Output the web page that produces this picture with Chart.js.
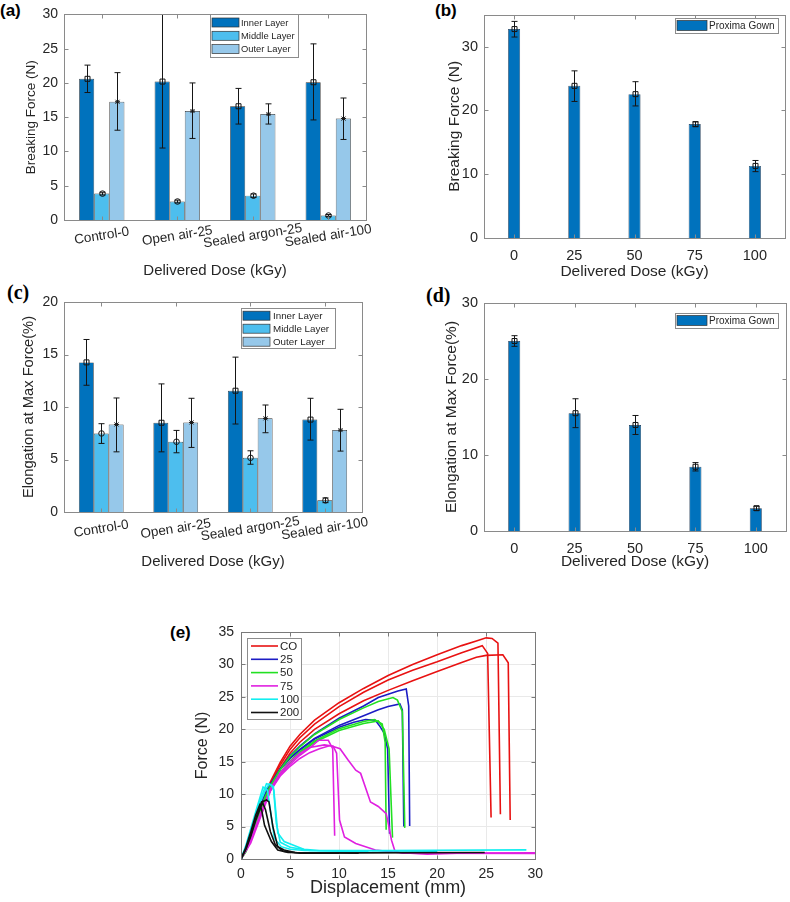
<!DOCTYPE html>
<html>
<head>
<meta charset="utf-8">
<script src="https://cdn.jsdelivr.net/npm/chart.js@4.4.0/dist/chart.umd.min.js"></script>
<style>
  body { margin: 0; background: #fff; width: 790px; height: 902px; position: relative; overflow: hidden; }
  .panel { position: absolute; }
  .tag { position: absolute; font-weight: bold; color: #000; line-height: 1; }
  .sans { font-family: "Liberation Sans", Arial, sans-serif; font-size: 17px; }
  .serif { font-family: "Liberation Serif", "Times New Roman", serif; font-size: 20px; }
</style>
</head>
<body>
<div class="tag sans" style="left:0px;top:2px">(a)</div>
<div class="tag sans" style="left:435px;top:2px">(b)</div>
<div class="tag serif" style="left:7px;top:282px">(c)</div>
<div class="tag serif" style="left:426px;top:285px">(d)</div>
<div class="tag sans" style="left:170px;top:624px">(e)</div>

<div class="panel" style="left:0px;top:0px"><canvas id="chartA" width="395" height="282"></canvas></div>
<div class="panel" style="left:395px;top:0px"><canvas id="chartB" width="395" height="282"></canvas></div>
<div class="panel" style="left:0px;top:282px"><canvas id="chartC" width="395" height="290"></canvas></div>
<div class="panel" style="left:395px;top:282px"><canvas id="chartD" width="395" height="290"></canvas></div>
<div class="panel" style="left:150px;top:600px"><canvas id="chartE" width="400" height="302"></canvas></div>

<script>
// --- data ---
const groups = ["Control-0", "Open air-25", "Sealed argon-25", "Sealed air-100"];
const layerNames = ["Inner Layer", "Middle Layer", "Outer Layer"];
const doses = ["0", "25", "50", "75", "100"];

// (a) breaking force per layer (N), with error bar ends
const forceInner = [20.6, 20.2, 16.6, 20.1];
const forceInnerLo = [18.6, 10.5, 14.0, 14.6];
const forceInnerHi = [22.6, 30.4, 19.2, 25.7];
const forceMiddle = [3.85, 2.7, 3.55, 0.65];
const forceMiddleLo = [3.65, 2.5, 3.3, 0.5];
const forceMiddleHi = [4.05, 2.9, 3.8, 0.8];
const forceOuter = [17.25, 15.9, 15.45, 14.8];
const forceOuterLo = [13.1, 11.9, 14.0, 11.75];
const forceOuterHi = [21.5, 20.0, 16.95, 17.8];

// (b) Proxima gown breaking force (N)
const gownForce = [32.75, 23.85, 22.55, 17.85, 11.3];
const gownForceLo = [31.5, 21.4, 20.7, 17.45, 10.4];
const gownForceHi = [33.95, 26.2, 24.5, 18.2, 12.15];

// (c) elongation at max force per layer (%)
const elongInner = [14.25, 8.5, 11.55, 8.8];
const elongInnerLo = [12.07, 5.73, 8.38, 6.85];
const elongInnerHi = [16.43, 12.2, 14.75, 10.83];
const elongMiddle = [7.48, 6.69, 5.16, 1.11];
const elongMiddleLo = [6.53, 5.64, 4.55, 0.89];
const elongMiddleHi = [8.41, 7.77, 5.83, 1.34];
const elongOuter = [8.34, 8.53, 8.92, 7.8];
const elongOuterLo = [5.73, 6.15, 7.55, 5.8];
const elongOuterHi = [10.86, 10.83, 10.19, 9.78];

// (d) Proxima gown elongation (%)
const gownElong = [25.0, 15.5, 13.95, 8.45, 3.0];
const gownElongLo = [24.3, 13.6, 12.7, 7.9, 2.7];
const gownElongHi = [25.7, 17.4, 15.2, 9.0, 3.25];

// (e) force-displacement curves, [mm, N]
const coRun1 = [[0,0],[0.5,1.6],[1,3.9],[1.5,6.2],[2,8.3],[2.5,10.2],[3,11.9],[4,14.9],[5,17.4],[6,19.2],[7.5,21.4],[10,24.1],[12.5,26.3],[15,28.3],[17.5,30],[20,31.5],[22.5,32.9],[24,33.6],[25,34.1],[25.6,34],[26.2,33.3],[26.45,6.9]];
const coRun2 = [[0,0],[0.5,1.5],[1,3.7],[1.5,6],[2,8.1],[2.5,10],[3,11.6],[4,14.5],[5,16.9],[6,18.7],[7.5,20.8],[10,23.5],[12.5,25.7],[15,27.6],[17.5,29.1],[20,30.4],[22.5,31.8],[24.6,32.9],[25.15,31.7],[25.5,6.4]];
const coRun3 = [[0,0],[0.5,1.4],[1,3.5],[1.5,5.8],[2,7.8],[2.5,9.6],[3,11.2],[4,14],[5,16.3],[6,18],[7.5,20],[10,22.4],[12.5,24.4],[15,26],[17.5,27.5],[20,28.9],[22.5,30.3],[24,31.1],[25,31.4],[26.7,31.5],[27.25,30.25],[27.45,6]];
const dose25Run1 = [[0,0],[0.5,1.5],[1,3.7],[1.5,6],[2,8],[2.5,9.8],[3,11.3],[4,13.9],[5,15.9],[6,17.4],[7.5,19.3],[10,21.7],[12.5,23.6],[14,24.9],[15,25.4],[16,25.9],[16.85,26.2],[17.1,23.6],[17.2,5.1]];
const dose25Run2 = [[0,0],[0.5,1.6],[1,3.9],[1.5,6.3],[2,8.3],[2.5,10],[3,11.5],[4,13.9],[5,15.6],[6,16.9],[7.5,18.6],[10,20.6],[12.5,22.1],[14,23],[15,23.5],[16.2,23.9],[16.45,23],[16.6,5]];
const dose25Run3 = [[0,0],[0.5,1.5],[1,3.8],[1.5,6.1],[2,8.2],[2.5,10],[3,11.5],[4,13.8],[5,15.5],[6,16.8],[7.5,18.5],[10,20.3],[11.5,21.1],[12.7,21.5],[13.7,21.4],[14.1,20.6],[14.6,19.4],[14.95,17],[15.15,3.9]];
const dose50Run1 = [[0,0],[0.5,1.3],[1,3.4],[1.5,5.7],[2,7.8],[2.5,9.7],[3,11.3],[4,13.8],[5,15.8],[6,17.3],[7.5,19.2],[10,21.5],[12.5,23.3],[14,24.3],[15.5,24.9],[15.95,24.5],[16.45,22.7],[16.7,4.8]];
const dose50Run2 = [[0,0],[0.5,1.2],[1,3.2],[1.5,5.4],[2,7.5],[2.5,9.3],[3,10.9],[4,13.3],[5,15.1],[6,16.5],[7.5,18.2],[10,20.1],[12.5,21.2],[13.6,21.5],[14.4,20.8],[14.7,18],[14.8,4.5]];
const dose50Run3 = [[0,0],[0.5,1.1],[1,3],[1.5,5.2],[2,7.2],[2.5,9],[3,10.6],[4,13.1],[5,14.9],[6,16.3],[7.5,18],[10,19.8],[12.5,20.9],[14,21.3],[14.6,20],[15.1,17],[15.45,3.3]];
const dose75Run1 = [[0,0],[1,2.5],[2,6.5],[3,10.5],[4,13],[5,14.6],[6,16],[7,17.1],[7.9,18.3],[8.9,18.3],[9.35,17],[9.55,3.6]];
const dose75Run2 = [[0,0],[1,3],[2,7],[3,10.8],[4,13.3],[5,15],[6,16.3],[7,17.2],[8.5,17.6],[9.4,17.4],[9.75,16.3],[10.05,6],[10.55,3.4],[11.7,2.4],[13.7,1.4],[16,1],[19,0.75],[22,0.9],[30,0.95]];
const dose75Run3 = [[0,0],[1,2.8],[2,7],[3,10.5],[4,12.8],[5,14.3],[6,15.5],[7,16.4],[8,17],[9.1,17.5],[10.1,17],[10.9,15.3],[11.7,13.7],[12.2,13.2],[13.2,8.8],[14,8.1],[14.8,7],[14.95,6],[15.35,2.9],[15.7,1.2],[16.5,0.9],[30,0.85]];
const dose100Run1 = [[0,0],[0.5,1.9],[1,4.4],[1.5,6.9],[2,9.3],[2.6,11.6],[3.1,11.4],[3.35,10.6],[3.75,4],[4.4,2.7],[5.75,1.9],[6.4,1.5],[8,1.3],[15,1.3],[29.1,1.4]];
const dose100Run2 = [[0,0],[0.5,2.1],[1,4.7],[1.5,7.3],[2.25,11.1],[2.7,10.6],[3,7.5],[3.4,3.2],[4.1,1.9],[5,1.5],[6.5,1.3],[20,1.2]];
const dose100Run3 = [[0,0],[0.5,1.7],[1,4],[1.5,6.5],[2,8.9],[2.5,10.7],[2.9,11.6],[3.3,11.2],[3.6,5.5],[4,2.6],[5,1.8],[7,1.3],[13,1.1]];
const dose200Run1 = [[0,0],[0.5,1.6],[1,3.8],[1.5,6.2],[2.1,8.8],[2.6,9.1],[2.85,8.8],[3.25,5],[3.75,1.9],[4.4,1.4],[5.5,1],[12,0.95],[24.85,1]];
const dose200Run2 = [[0,0],[0.5,1.8],[1,4.2],[1.5,6.8],[1.9,8.3],[2.1,7.6],[2.4,5.2],[3.1,2.7],[3.75,1.4],[4.8,1],[12,0.9]];
const dose200Run3 = [[0,0],[0.5,1.5],[1,3.5],[1.5,6],[2.2,8.7],[2.5,7.6],[3,4.2],[3.5,2.2],[4.3,1.2],[6,0.9],[10,0.9]];
const curveLabels = ["CO", "25", "50", "75", "100", "200"];

// --- styles ---
const FONT = '"Liberation Sans", Arial, sans-serif';
const TXT = "#262626";
const INNER = "#0072BD", MIDDLE = "#4DBEEE", OUTER = "#96C8EA";
const curveColors = ["#e81212", "#1c1cc4", "#22e022", "#e020e0", "#12eef0", "#111111"];

Chart.defaults.font.family = FONT;
Chart.defaults.color = TXT;

function drawMarker(ctx, kind, x, y) {
  ctx.beginPath();
  if (kind === "square") {
    ctx.rect(x - 2.5, y - 2.5, 5, 5);
    ctx.stroke();
  } else if (kind === "circle") {
    ctx.arc(x, y, 2.8, 0, Math.PI * 2);
    ctx.stroke();
  } else if (kind === "star") {
    ctx.moveTo(x - 2, y - 2); ctx.lineTo(x + 2, y + 2);
    ctx.moveTo(x - 2, y + 2); ctx.lineTo(x + 2, y - 2);
    ctx.moveTo(x, y - 2.5); ctx.lineTo(x, y + 2.5);
    ctx.moveTo(x - 2.5, y); ctx.lineTo(x + 2.5, y);
    ctx.stroke();
  }
}

// error bars, box, inward ticks, in-plot legend, slanted category labels
const panelDecor = {
  id: "panelDecor",
  afterDatasetsDraw(chart) {
    const ctx = chart.ctx, a = chart.chartArea, ys = chart.scales.y;
    chart.data.datasets.forEach((ds, di) => {
      if (!ds.errLo) return;
      const meta = chart.getDatasetMeta(di);
      ctx.save();
      ctx.beginPath();
      ctx.rect(a.left, a.top, a.right - a.left, a.bottom - a.top);
      ctx.clip();
      ctx.strokeStyle = "#151515";
      ctx.lineWidth = 1;
      meta.data.forEach((bar, i) => {
        const x = Math.round(bar.x) + 0.5;
        const lo = ys.getPixelForValue(ds.errLo[i]);
        const hi = ys.getPixelForValue(ds.errHi[i]);
        const mid = ys.getPixelForValue(ds.data[i]);
        ctx.beginPath();
        ctx.moveTo(x, lo); ctx.lineTo(x, hi);
        ctx.moveTo(x - 3, lo); ctx.lineTo(x + 3, lo);
        ctx.moveTo(x - 3, hi); ctx.lineTo(x + 3, hi);
        ctx.stroke();
        drawMarker(ctx, ds.errMarker, x, mid);
      });
      ctx.restore();
    });
  },
  afterDraw(chart, args, opts) {
    const ctx = chart.ctx, a = chart.chartArea;
    const xs = chart.scales.x, ys = chart.scales.y;
    ctx.save();
    // slanted category labels
    if (opts.slant) {
      ctx.fillStyle = TXT;
      ctx.font = opts.slant.size + "px " + FONT;
      ctx.textAlign = "center";
      ctx.textBaseline = "middle";
      chart.data.labels.forEach((lab, i) => {
        ctx.save();
        ctx.translate(xs.getPixelForTick(i), a.bottom + opts.slant.dy);
        ctx.rotate(-opts.slant.angle * Math.PI / 180);
        ctx.fillText(lab, 0, 0);
        ctx.restore();
      });
    }
    // axes box and inward ticks
    ctx.strokeStyle = opts.boxColor || "#8a8a8a";
    ctx.lineWidth = 1;
    const L = Math.round(a.left) + 0.5, R = Math.round(a.right) + 0.5;
    const T = Math.round(a.top) + 0.5, B = Math.round(a.bottom) + 0.5;
    ctx.strokeRect(L, T, R - L, B - T);
    const tl = 4;
    ctx.beginPath();
    xs.ticks.forEach((t, i) => {
      const px = Math.round(xs.getPixelForTick(i)) + 0.5;
      ctx.moveTo(px, B); ctx.lineTo(px, B - tl);
      ctx.moveTo(px, T); ctx.lineTo(px, T + tl);
    });
    ys.ticks.forEach((t, i) => {
      const py = Math.round(ys.getPixelForTick(i)) + 0.5;
      ctx.moveTo(L, py); ctx.lineTo(L + tl, py);
      ctx.moveTo(R, py); ctx.lineTo(R - tl, py);
    });
    ctx.stroke();
    // legend inside the axes
    const lg = opts.legend;
    if (lg) {
      ctx.fillStyle = "#fff";
      ctx.fillRect(lg.x, lg.y, lg.w, lg.h);
      ctx.strokeStyle = "#8c8c8c";
      ctx.strokeRect(lg.x + 0.5, lg.y + 0.5, lg.w, lg.h);
      ctx.font = lg.size + "px " + FONT;
      ctx.textAlign = "left";
      ctx.textBaseline = "middle";
      const items = chart.data.datasets.filter(ds => ds.inKey !== false);
      items.forEach((ds, k) => {
        const cy = lg.y + lg.first + k * lg.step;
        if (lg.kind === "line") {
          ctx.strokeStyle = ds.borderColor;
          ctx.lineWidth = 1.6;
          ctx.beginPath();
          ctx.moveTo(lg.x + lg.sx, cy); ctx.lineTo(lg.x + lg.sx + lg.sw, cy);
          ctx.stroke();
        } else {
          ctx.fillStyle = ds.backgroundColor;
          ctx.fillRect(lg.x + lg.sx, cy - lg.sh / 2, lg.sw, lg.sh);
          ctx.strokeStyle = "#333";
          ctx.lineWidth = 0.7;
          ctx.strokeRect(lg.x + lg.sx, cy - lg.sh / 2, lg.sw, lg.sh);
        }
        ctx.fillStyle = TXT;
        ctx.fillText(ds.label, lg.x + lg.tx, cy + 0.5);
      });
    }
    ctx.restore();
  }
};
Chart.register(panelDecor);

function barSet(label, data, color, lo, hi, marker) {
  return { label, data, backgroundColor: color, borderColor: "#2b2b2b", borderWidth: 0.7,
           errLo: lo, errHi: hi, errMarker: marker };
}

function plainAxis(extra) {
  return Object.assign({
    grid: { display: false, drawTicks: false },
    border: { display: false }
  }, extra);
}

// --- (a) breaking force per layer ---
new Chart(document.getElementById("chartA"), {
  type: "bar",
  data: {
    labels: groups,
    datasets: [
      barSet(layerNames[0], forceInner, INNER, forceInnerLo, forceInnerHi, "square"),
      barSet(layerNames[1], forceMiddle, MIDDLE, forceMiddleLo, forceMiddleHi, "circle"),
      barSet(layerNames[2], forceOuter, OUTER, forceOuterLo, forceOuterHi, "star")
    ]
  },
  options: {
    responsive: false, animation: false,
    layout: { padding: { left: 0, top: 11, right: 29, bottom: 0 } },
    datasets: { bar: { categoryPercentage: 0.6, barPercentage: 1 } },
    scales: {
      x: plainAxis({
        ticks: { display: false },
        afterFit: s => { s.height = 62; },
        title: { display: true, text: "Delivered Dose (kGy)", font: { size: 15 }, color: TXT, padding: { top: 0, bottom: 2 } }
      }),
      y: plainAxis({
        min: 0, max: 30,
        ticks: { stepSize: 5, padding: 6, font: { size: 14 }, color: TXT },
        afterFit: s => { s.width = 64; },
        title: { display: true, text: "Breaking Force (N)", font: { size: 13.5 }, color: TXT, padding: { top: 23, bottom: 0 } }
      })
    },
    plugins: {
      legend: { display: false }, tooltip: { enabled: false },
      panelDecor: {
        slant: { size: 13.5, dy: 16, angle: 9 },
        legend: { x: 210, y: 14, w: 88, h: 43, first: 8.5, step: 13.3, sx: 2, sw: 27, sh: 9, tx: 31, size: 9.4 }
      }
    }
  }
});

// --- (b) gown breaking force ---
new Chart(document.getElementById("chartB"), {
  type: "bar",
  data: {
    labels: doses,
    datasets: [
      Object.assign(barSet("Proxima Gown", gownForce, INNER, gownForceLo, gownForceHi, "square"), { borderColor: "#1d3550" })
    ]
  },
  options: {
    responsive: false, animation: false,
    layout: { padding: { left: 0, top: 12, right: 5, bottom: 0 } },
    datasets: { bar: { categoryPercentage: 1, barPercentage: 0.2 } },
    scales: {
      x: plainAxis({
        ticks: { padding: 9, font: { size: 14.5 }, color: TXT },
        afterFit: s => { s.height = 44; },
        title: { display: true, text: "Delivered Dose (kGy)", font: { size: 15.5 }, color: TXT, padding: { top: 0, bottom: 1 } }
      }),
      y: plainAxis({
        min: 0, max: 35,
        ticks: { stepSize: 10, includeBounds: false, padding: 6, font: { size: 14.5 }, color: TXT },
        afterFit: s => { s.width = 89; },
        title: { display: true, text: "Breaking Force (N)", font: { size: 15.5 }, color: TXT, padding: { top: 50, bottom: 0 } }
      })
    },
    plugins: {
      legend: { display: false }, tooltip: { enabled: false },
      panelDecor: {
        legend: { x: 280, y: 18, w: 103, h: 15, first: 7.5, step: 13, sx: 2, sw: 30, sh: 10, tx: 34, size: 10 }
      }
    }
  }
});

// --- (c) elongation per layer ---
new Chart(document.getElementById("chartC"), {
  type: "bar",
  data: {
    labels: groups,
    datasets: [
      barSet(layerNames[0], elongInner, INNER, elongInnerLo, elongInnerHi, "square"),
      barSet(layerNames[1], elongMiddle, MIDDLE, elongMiddleLo, elongMiddleHi, "circle"),
      barSet(layerNames[2], elongOuter, OUTER, elongOuterLo, elongOuterHi, "star")
    ]
  },
  options: {
    responsive: false, animation: false,
    layout: { padding: { left: 0, top: 20, right: 33, bottom: 0 } },
    datasets: { bar: { categoryPercentage: 0.6, barPercentage: 1 } },
    scales: {
      x: plainAxis({
        ticks: { display: false },
        afterFit: s => { s.height = 60; },
        title: { display: true, text: "Delivered Dose (kGy)", font: { size: 15 }, color: TXT, padding: { top: 0, bottom: 1 } }
      }),
      y: plainAxis({
        min: 0, max: 20,
        ticks: { stepSize: 5, padding: 6, font: { size: 14 }, color: TXT },
        afterFit: s => { s.width = 64; },
        title: { display: true, text: "Elongation at Max Force(%)", font: { size: 14.7 }, color: TXT, padding: { top: 20, bottom: 0 } }
      })
    },
    plugins: {
      legend: { display: false }, tooltip: { enabled: false },
      panelDecor: {
        slant: { size: 13.5, dy: 17, angle: 9 },
        legend: { x: 241, y: 26, w: 94, h: 40, first: 7.7, step: 13, sx: 2, sw: 27, sh: 9, tx: 32, size: 9.8 }
      }
    }
  }
});

// --- (d) gown elongation ---
new Chart(document.getElementById("chartD"), {
  type: "bar",
  data: {
    labels: doses,
    datasets: [
      Object.assign(barSet("Proxima Gown", gownElong, INNER, gownElongLo, gownElongHi, "square"), { borderColor: "#1d3550" })
    ]
  },
  options: {
    responsive: false, animation: false,
    layout: { padding: { left: 0, top: 21, right: 4, bottom: 0 } },
    datasets: { bar: { categoryPercentage: 1, barPercentage: 0.2 } },
    scales: {
      x: plainAxis({
        ticks: { padding: 9, font: { size: 14.5 }, color: TXT },
        afterFit: s => { s.height = 41; },
        title: { display: true, text: "Delivered Dose (kGy)", font: { size: 15.5 }, color: TXT, padding: { top: 0, bottom: 1 } }
      }),
      y: plainAxis({
        min: 0, max: 30,
        ticks: { stepSize: 10, padding: 6, font: { size: 14.5 }, color: TXT },
        afterFit: s => { s.width = 89; },
        title: { display: true, text: "Elongation at Max Force(%)", font: { size: 15.5 }, color: TXT, padding: { top: 47, bottom: 0 } }
      })
    },
    plugins: {
      legend: { display: false }, tooltip: { enabled: false },
      panelDecor: {
        legend: { x: 280, y: 31, w: 103, h: 15, first: 7.5, step: 13, sx: 2, sw: 30, sh: 10, tx: 34, size: 10 }
      }
    }
  }
});

// --- (e) force-displacement curves ---
const curveGroups = [
  [coRun1, coRun2, coRun3],
  [dose25Run1, dose25Run2, dose25Run3],
  [dose50Run1, dose50Run2, dose50Run3],
  [dose75Run1, dose75Run2, dose75Run3],
  [dose100Run1, dose100Run2, dose100Run3],
  [dose200Run1, dose200Run2, dose200Run3]
];
const curveSets = [];
curveGroups.forEach((runs, g) => {
  runs.forEach((run, r) => {
    curveSets.push({
      label: curveLabels[g],
      data: run.map(p => ({ x: p[0], y: p[1] })),
      borderColor: curveColors[g],
      borderWidth: 1.6,
      pointRadius: 0,
      fill: false,
      tension: 0,
      order: curveGroups.length - g,
      inKey: r === 0
    });
  });
});

new Chart(document.getElementById("chartE"), {
  type: "line",
  data: { datasets: curveSets },
  options: {
    responsive: false, animation: false,
    layout: { padding: { left: 0, top: 32, right: 8, bottom: 0 } },
    scales: {
      x: {
        type: "linear", min: 0, max: 30,
        grid: { color: "#e9e9e9", drawTicks: false },
        border: { display: false },
        ticks: { stepSize: 5, padding: 7, font: { size: 14 }, color: TXT },
        afterFit: s => { s.height = 43; },
        title: { display: true, text: "Displacement (mm)", font: { size: 18 }, color: TXT, padding: { top: 0, bottom: 3 } }
      },
      y: {
        min: 0, max: 35,
        grid: { color: "#e9e9e9", drawTicks: false },
        border: { display: false },
        ticks: { stepSize: 5, padding: 7, font: { size: 14 }, color: TXT },
        afterFit: s => { s.width = 91; },
        title: { display: true, text: "Force (N)", font: { size: 16 }, color: TXT, padding: { top: 43, bottom: 0 } }
      }
    },
    plugins: {
      legend: { display: false }, tooltip: { enabled: false },
      panelDecor: {
        boxColor: "#7a7a7a",
        legend: { x: 97, y: 38, w: 54, h: 81, kind: "line", first: 8, step: 13.3, sx: 4, sw: 27, tx: 33, size: 11.5 }
      }
    }
  }
});
</script>
</body>
</html>
